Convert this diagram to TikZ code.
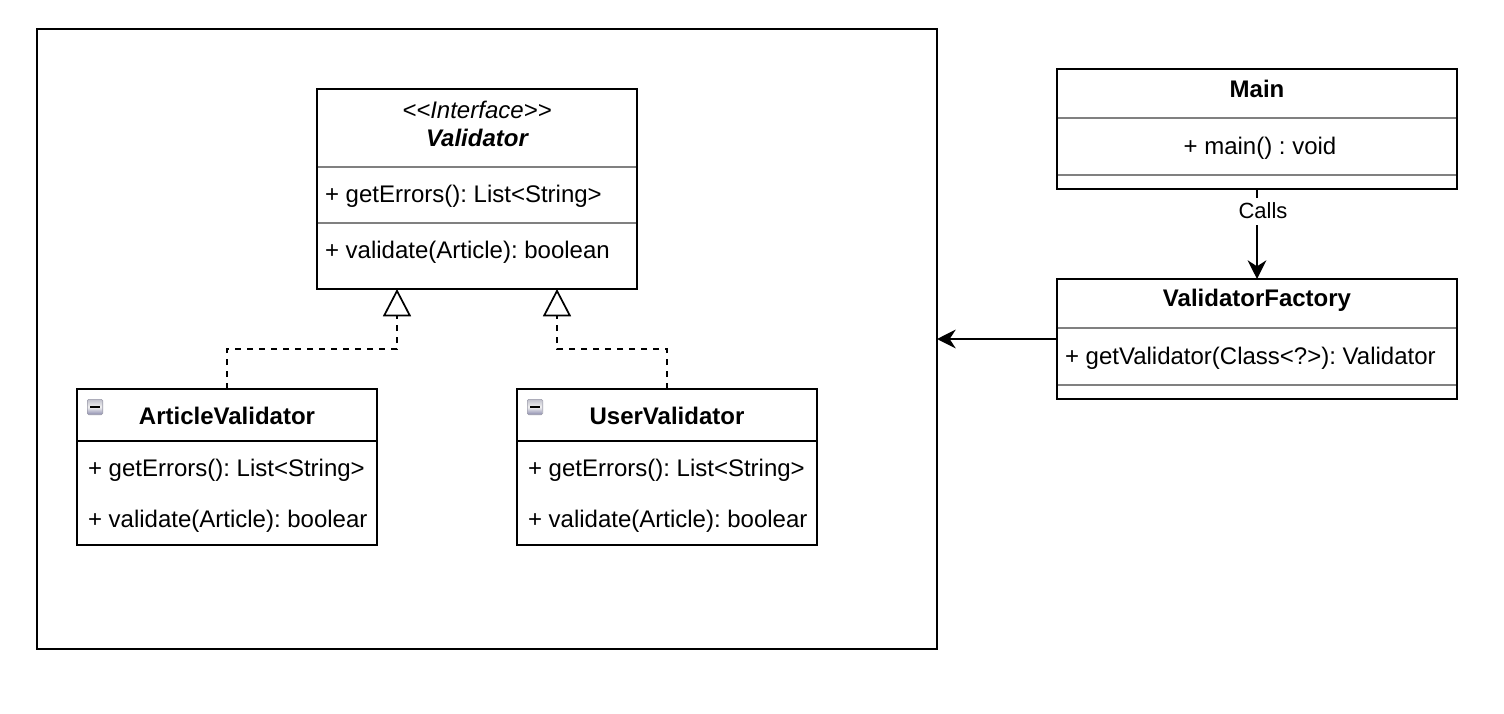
\documentclass[tikz,border=0pt]{standalone}
\usepackage{fontspec}
\setmainfont{Liberation Sans}
\usepackage{tikz}
\usetikzlibrary{
    arrows.meta,
    positioning,
    calc
}

\begin{document}
\frenchspacing
\begin{tikzpicture}[
  x=0.75pt,y=-0.75pt,
  every node/.style={font=\fontsize{18}{22}\selectfont,outer sep=0pt,inner sep=0pt},
  classbox/.style={rectangle,draw,line width=1.5pt,fill=white},
  uiface/.style={classbox,minimum width=240pt,minimum height=150pt},
  ubox/.style={classbox,minimum width=225pt,minimum height=117pt},
  mainbox/.style={classbox,minimum width=300pt,minimum height=90pt},
  member/.style={anchor=west},
  title/.style={font=\fontsize{18}{22}\selectfont\bfseries},
  divider/.style={line width=1.1pt,draw=black!50,shorten <=0.7pt,shorten >=0.7pt},
  realize/.style={line width=1.3pt,dash pattern=on 4.5pt off 4.5pt,
    -{Triangle[open,length=20.5pt,width=21pt,line width=1.3pt]}},
  arrow/.style={-{Stealth[length=14pt,width=14pt,inset=4.5pt]},line width=1.5pt},
  collapse/.style={rectangle,rounded corners=1pt,draw=blue!15!black!40,line width=0.5pt,
    top color=blue!20!black!25,bottom color=blue!30!black!45,middle color=black!5,
    minimum size=11.5pt},
  edgelabel/.style={fill=white,inner xsep=1.5pt,text height=15pt,text depth=5.25pt,
    font=\fontsize{16.5}{20}\selectfont}
]
\useasboundingbox (0,0) rectangle (1504,714);

% left package frame
\node[classbox,minimum width=675pt,minimum height=465pt] (frame) at (487,339) {};

% interface
\node[uiface] (validator) at (477,189) {};
\node[font=\fontsize{18}{22}\selectfont\itshape] (validatorstereo) at (477,110) {<{}<Interface>{}>};
\node[font=\fontsize{18}{22}\selectfont\bfseries\itshape] (validatortitle) at (477,138) {Validator};
\draw[divider] (validator.west |- 0,167) -- (validator.east |- 0,167);
\node[member] (validatorerrors) at (325,196) {+ getErrors(): List<String>};
\draw[divider] (validator.west |- 0,223) -- (validator.east |- 0,223);
\node[member] (validatorcheck) at (325,252) {+ validate(Article): boolean};

% implementations
\node[ubox] (articlevalidator) at (227,467) {};
\node[ubox,right=105pt of articlevalidator] (uservalidator) {};
\node[title] (articletitle) at (227,416) {ArticleValidator};
\node[title] (usertitle) at (667,416) {UserValidator};
\node[collapse] (articleicon) at (95,407) {\rule{7pt}{1.4pt}};
\node[collapse] (usericon) at (535,407) {\rule{7pt}{1.4pt}};
\draw[line width=1.5pt] (articlevalidator.west |- 0,441) -- (articlevalidator.east |- 0,441);
\draw[line width=1.5pt] (uservalidator.west |- 0,441) -- (uservalidator.east |- 0,441);
\node[member] (articleerrors) at (88,470) {+ getErrors(): List<String>};
\node[member] (articlecheck) at (88,521) {+ validate(Article): boolear};
\node[member] (usererrors) at (528,470) {+ getErrors(): List<String>};
\node[member] (usercheck) at (528,521) {+ validate(Article): boolear};

% right side
\node[mainbox] (main) at (1257,129) {};
\node[title] (maintitle) at (1257,89) {Main};
\draw[divider] (main.west |- 0,118) -- (main.east |- 0,118);
\node (mainop) at (1260,148) {+ main() : void};
\draw[divider] (main.west |- 0,175) -- (main.east |- 0,175);

\node[mainbox,below=67.5pt of main] (factory) {};
\node[title] (factorytitle) at (1257,300) {ValidatorFactory};
\draw[divider] (factory.west |- 0,328) -- (factory.east |- 0,328);
\node[member] (factoryop) at (1065,358) {+ getValidator(Class<?>): Validator};
\draw[divider] (factory.west |- 0,385) -- (factory.east |- 0,385);

% connectors
\coordinate (tipa) at ($(validator.south west)!.25!(validator.south east)$);
\coordinate (tipb) at ($(validator.south west)!.75!(validator.south east)$);
\draw[realize] (articlevalidator.north) -- ++(0,-40) -| (tipa);
\draw[realize] (uservalidator.north) -- ++(0,-40) -| (tipb);
\draw[arrow] (main) -- node[pos=.25,xshift=4.5pt,edgelabel] (calls) {Calls} (factory);
\draw[arrow] (factory) -- (frame);
\end{tikzpicture}
\end{document}
